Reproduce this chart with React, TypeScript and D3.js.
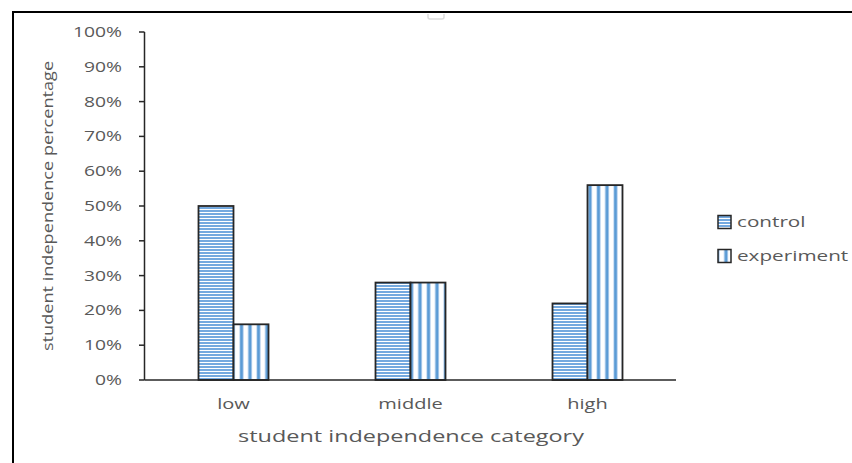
import React from "react";
import * as d3 from "d3";

const categories = ["low", "middle", "high"];
const seriesNames = ["control", "experiment"];
const controlValues = [0.5, 0.28, 0.22];
const experimentValues = [0.16, 0.28, 0.56];
const yTicks = [0, 0.1, 0.2, 0.3, 0.4, 0.5, 0.6, 0.7, 0.8, 0.9, 1.0];

const W = 852;
const H = 463;
const FONT = "'Open Sans', 'Noto Sans', sans-serif";
const TEXT = "#595959";
const BLUE = "#5b9bd5";
const SX = 1.33;

function T(props: {
  x: number;
  y: number;
  anchor?: string;
  size: number;
  rotate?: number;
  sx?: number;
  children: React.ReactNode;
}) {
  const { x, y, anchor = "start", size, rotate = 0, sx = SX, children } = props;
  return (
    <g transform={`translate(${x},${y}) rotate(${rotate}) scale(${sx},1)`}>
      <text
        dy="0.35em"
        textAnchor={anchor}
        fontFamily={FONT}
        fontSize={size}
        fill={TEXT}
      >
        {children}
      </text>
    </g>
  );
}

export default function App() {
  const x0 = d3.scaleBand<string>().domain(categories).range([145, 676]);
  const y = d3.scaleLinear().domain([0, 1]).range([380, 32]);
  const barW = 35;
  const series = [controlValues, experimentValues];

  return (
    <svg
      width={W}
      height={H}
      style={{ position: "absolute", left: 0, top: 0, background: "#fff" }}
    >
      <defs>
        <pattern id="hstripe" patternUnits="userSpaceOnUse" width={6} height={3}>
          <rect width={6} height={3} fill="#ffffff" />
          <rect width={6} height={2} fill="#74a9df" />
        </pattern>
        <pattern id="vstripe" patternUnits="userSpaceOnUse" width={8.5} height={6}>
          <rect width={8.5} height={6} fill="#ffffff" />
          <rect x={1.5} width={4} height={6} fill="#a9c9ec" />
          <rect x={2.2} width={2.6} height={6} fill={BLUE} />
        </pattern>
      </defs>
      <rect x={0} y={0} width={W} height={H} fill="#fff" />
      {/* outer frame */}
      <rect x={13} y={12} width={1000} height={1000} fill="none" stroke="#000" strokeWidth={2} />
      <path d="M428,14 v3 a2,2 0 0 0 2,2 h12 a2,2 0 0 0 2,-2 v-3" fill="none" stroke="#dcdcdc" strokeWidth={1.5} />

      {/* y axis */}
      <line x1={144.5} x2={144.5} y1={y(1)} y2={y(0)} stroke="#262626" strokeWidth={1.5} />
      {yTicks.map((t) => (
        <g key={t}>
          <line x1={139} x2={144.5} y1={y(t)} y2={y(t)} stroke="#262626" strokeWidth={1.5} />
          <T x={122} y={y(t)} anchor="end" size={14.5}>
            {d3.format(".0%")(t)}
          </T>
        </g>
      ))}

      {/* bars */}
      {categories.map((c, i) => {
        const cx = (x0(c) as number) + x0.bandwidth() / 2;
        return (
          <g key={c}>
            {series.map((vals, s) => {
              const bx = cx - barW + s * barW;
              return (
                <rect
                  key={s}
                  x={bx}
                  y={y(vals[i])}
                  width={barW}
                  height={y(0) - y(vals[i])}
                  fill={s === 0 ? "url(#hstripe)" : "url(#vstripe)"}
                  stroke="#262626"
                  strokeWidth={1.8}
                />
              );
            })}
            <T x={cx} y={404} anchor="middle" size={14.5} sx={1.38}>
              {c}
            </T>
          </g>
        );
      })}

      {/* x axis line */}
      <line x1={144.5} x2={676} y1={y(0)} y2={y(0)} stroke="#262626" strokeWidth={1.5} />

      {/* axis titles */}
      <T x={411} y={436} anchor="middle" size={16.5} sx={1.42}>
        student independence category
      </T>
      <T x={48} y={206} anchor="middle" size={14.5} rotate={-90} sx={1.25}>
        student independence percentage
      </T>

      {/* legend */}
      {seriesNames.map((n, s) => {
        const ly = 222 + s * 34;
        return (
          <g key={n}>
            <rect
              x={718}
              y={ly - 6.5}
              width={13}
              height={13}
              fill={s === 0 ? "url(#hstripe)" : "url(#vstripe)"}
              stroke="#262626"
              strokeWidth={1.5}
            />
            <T x={737} y={ly} size={15} sx={1.38}>
              {n}
            </T>
          </g>
        );
      })}
    </svg>
  );
}
